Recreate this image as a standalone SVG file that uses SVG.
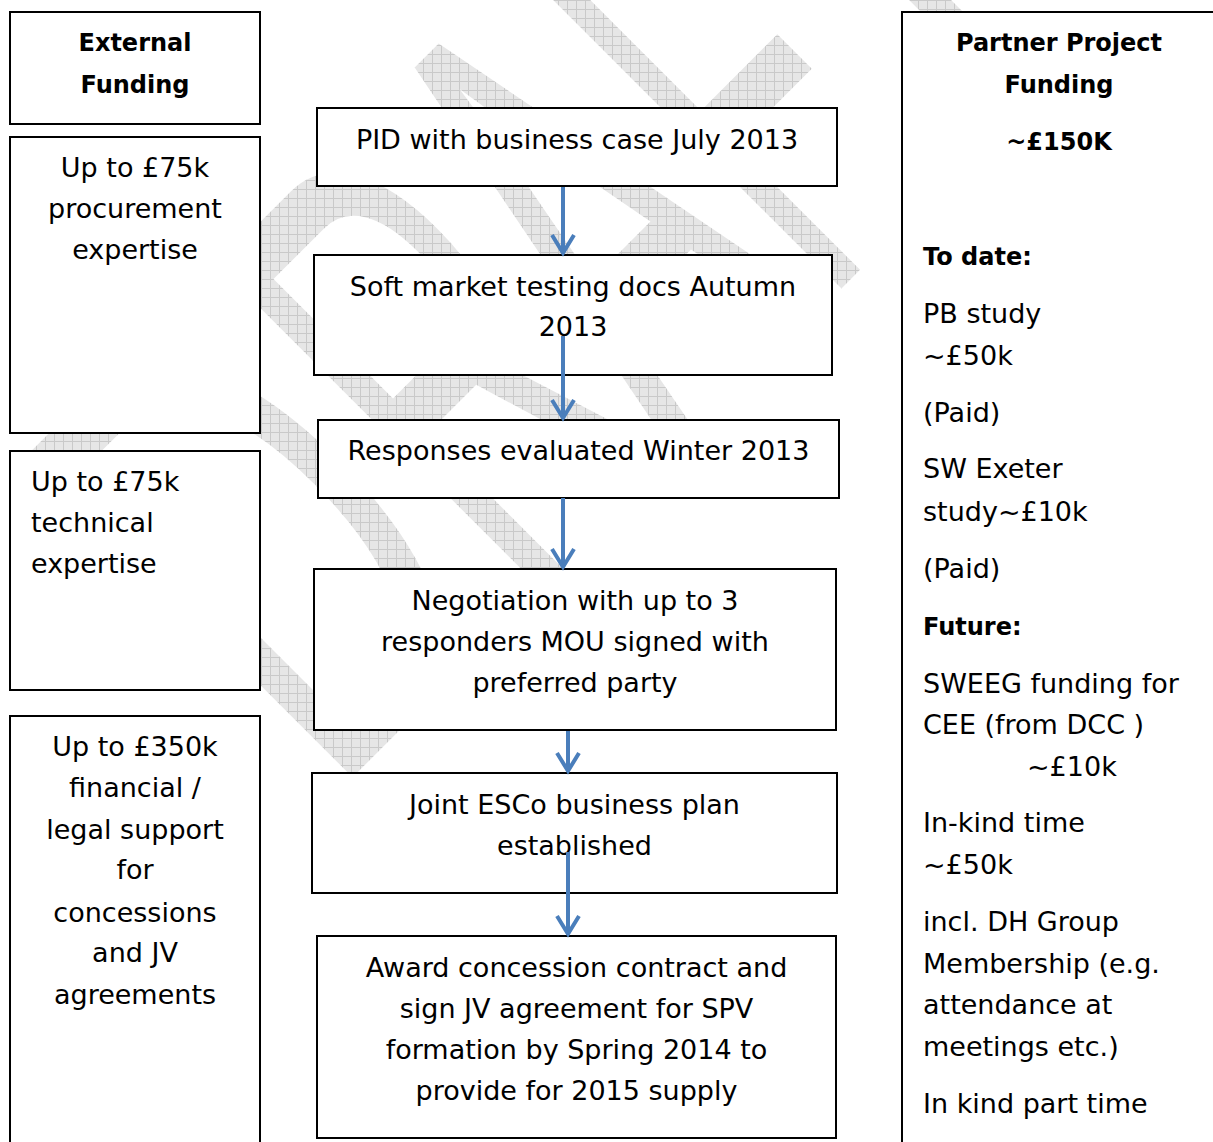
<svg xmlns="http://www.w3.org/2000/svg" width="1213" height="1142" viewBox="0 0 1213 1142">
<style>
  .box { fill: #ffffff; stroke: #000000; stroke-width: 2; }
  .t { font-family: "DejaVu Sans", "Liberation Sans", sans-serif; font-size: 27px; fill: #000000; }
  .c { text-anchor: middle; }
  .b { font-family: "DejaVu Sans", "Liberation Sans", sans-serif; font-size: 24px; font-weight: bold; fill: #000000; }
  .conn { stroke: #4a7ebb; stroke-width: 4; fill: none; marker-end: url(#head); }
  .wmtext { font-family: "Liberation Sans", Arial, sans-serif; font-size: 320px; fill: #ffffff; }
</style>
<defs>
  <marker id="head" viewBox="0 0 30 30" refX="24" refY="15" markerWidth="30" markerHeight="30" markerUnits="userSpaceOnUse" orient="auto">
    <path d="M6,4 L24,15 L6,26" fill="none" stroke="#4a7ebb" stroke-width="4" stroke-linejoin="miter"/>
  </marker>
  <pattern id="hatch" patternUnits="userSpaceOnUse" width="9" height="9">
    <rect width="9" height="9" fill="#e6e6e6"/>
    <path d="M0,0.5 H9 M0.5,0 V9" stroke="#c9c9c9" stroke-width="1"/>
  </pattern>
  <mask id="wm" maskUnits="userSpaceOnUse" x="0" y="0" width="1213" height="1142">
    <g transform="rotate(-45) scale(1,2.08)">
      <text class="wmtext" transform="translate(-330,384.1) scale(1.13,1)">D</text>
      <text class="wmtext" x="-60" y="384.1">R</text>
      <text class="wmtext" x="155" y="384.1">A</text>
      <text class="wmtext" transform="translate(368,384.1) scale(0.88,0.95)">F</text>
      <text class="wmtext" x="560" y="384.1">T</text>
    </g>
  </mask>
</defs>
<rect width="1213" height="1142" fill="#ffffff"/>
<rect id="watermark" width="1213" height="1142" fill="url(#hatch)" mask="url(#wm)"/>

<g id="ext-title">
  <rect class="box" x="10" y="12" width="250" height="112"/>
  <text class="b c" x="135" y="50.5">External</text>
  <text class="b c" x="135" y="92.5">Funding</text>
</g>
<g id="ext-procurement">
  <rect class="box" x="10" y="137" width="250" height="296"/>
  <text class="t c" x="135" y="177">Up to £75k</text>
  <text class="t c" x="135" y="218">procurement</text>
  <text class="t c" x="135" y="259">expertise</text>
</g>
<g id="ext-technical">
  <rect class="box" x="10" y="451" width="250" height="239"/>
  <text class="t" x="31" y="491">Up to £75k</text>
  <text class="t" x="31" y="532">technical</text>
  <text class="t" x="31" y="573">expertise</text>
</g>
<g id="ext-financial">
  <rect class="box" x="10" y="716" width="250" height="460"/>
  <text class="t c" x="135" y="756">Up to £350k</text>
  <text class="t c" x="135" y="797">financial /</text>
  <text class="t c" x="135" y="839">legal support</text>
  <text class="t c" x="135" y="879">for</text>
  <text class="t c" x="135" y="922">concessions</text>
  <text class="t c" x="135" y="962">and JV</text>
  <text class="t c" x="135" y="1004">agreements</text>
</g>

<g id="step-pid">
  <rect class="box" x="317" y="108" width="520" height="78"/>
  <text class="t c" x="577" y="149">PID with business case July 2013</text>
</g>
<g id="step-soft">
  <rect class="box" x="314" y="255" width="518" height="120"/>
  <text class="t c" x="573" y="296">Soft market testing docs Autumn</text>
  <text class="t c" x="573" y="336">2013</text>
</g>
<g id="step-responses">
  <rect class="box" x="318" y="420" width="521" height="78"/>
  <text class="t c" x="578.5" y="460">Responses evaluated Winter 2013</text>
</g>
<g id="step-negotiation">
  <rect class="box" x="314" y="569" width="522" height="161"/>
  <text class="t c" x="575" y="610">Negotiation with up to 3</text>
  <text class="t c" x="575" y="651">responders MOU signed with</text>
  <text class="t c" x="575" y="692">preferred party</text>
</g>
<g id="step-esco">
  <rect class="box" x="312" y="773" width="525" height="120"/>
  <text class="t c" x="574.5" y="814">Joint ESCo business plan</text>
  <text class="t c" x="574.5" y="855">established</text>
</g>
<g id="step-award">
  <rect class="box" x="317" y="936" width="519" height="202"/>
  <text class="t c" x="576.5" y="977">Award concession contract and</text>
  <text class="t c" x="576.5" y="1018">sign JV agreement for SPV</text>
  <text class="t c" x="576.5" y="1059">formation by Spring 2014 to</text>
  <text class="t c" x="576.5" y="1100">provide for 2015 supply</text>
</g>

<g id="partner-funding">
  <rect class="box" x="902" y="12" width="340" height="1200"/>
  <text class="b c" x="1059" y="50.5">Partner Project</text>
  <text class="b c" x="1059" y="92.5">Funding</text>
  <text class="b c" x="1059" y="150">~£150K</text>
  <text class="b" x="923" y="265">To date:</text>
  <text class="t" x="923" y="323">PB study</text>
  <text class="t" x="923" y="365">~£50k</text>
  <text class="t" x="923" y="422">(Paid)</text>
  <text class="t" x="923" y="478">SW Exeter</text>
  <text class="t" x="923" y="521">study~£10k</text>
  <text class="t" x="923" y="578">(Paid)</text>
  <text class="b" x="923" y="635">Future:</text>
  <text class="t" x="923" y="693">SWEEG funding for</text>
  <text class="t" x="923" y="734">CEE (from DCC )</text>
  <text class="t" x="1027" y="776">~£10k</text>
  <text class="t" x="923" y="832">In-kind time</text>
  <text class="t" x="923" y="874">~£50k</text>
  <text class="t" x="923" y="931">incl. DH Group</text>
  <text class="t" x="923" y="973">Membership (e.g.</text>
  <text class="t" x="923" y="1014">attendance at</text>
  <text class="t" x="923" y="1056">meetings etc.)</text>
  <text class="t" x="923" y="1113">In kind part time</text>
</g>

<g id="connectors">
  <line class="conn" x1="563" y1="187" x2="563" y2="253"/>
  <line class="conn" x1="563" y1="336" x2="563" y2="418"/>
  <line class="conn" x1="563" y1="498" x2="563" y2="567"/>
  <line class="conn" x1="568" y1="731" x2="568" y2="771"/>
  <line class="conn" x1="568" y1="852" x2="568" y2="934"/>
</g>
</svg>
